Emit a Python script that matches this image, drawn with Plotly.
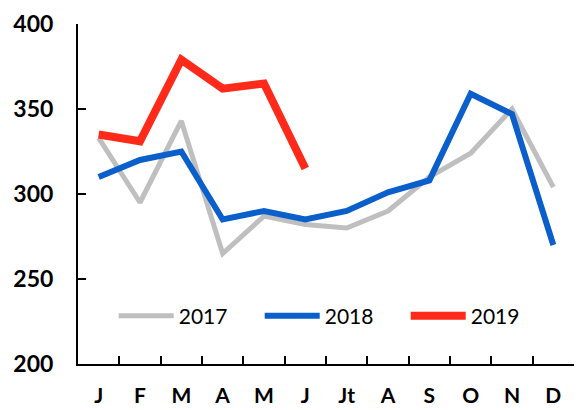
import plotly.graph_objects as go

months = ["J", "F", "M", "A", "M ", "J ", "Jt", "A ", "S", "O", "N", "D"]
tick_text = ["J", "F", "M", "A", "M", "J", "Jt", "A", "S", "O", "N", "D"]

v2017 = [333, 295, 343, 265, 287, 282, 280, 290, 310, 324, 350, 304]
v2018 = [310, 320, 325, 285, 290, 285, 290, 301, 308, 359, 347, 270]
v2019 = [335, 331, 379, 362, 365, 315]

series = [
    ("2017", v2017, "#BFBFBF", 5),
    ("2018", v2018, "#0A5FCB", 6),
    ("2019", v2019, "#FF2A1A", 8),
]

fig = go.Figure()
for name, vals, color, width in series:
    fig.add_trace(go.Scatter(
        x=months[:len(vals)], y=vals, name=name, mode="lines",
        line=dict(color=color, width=width),
    ))

fig.update_layout(
    width=576, height=410,
    margin=dict(l=78, r=2, t=24, b=46),
    paper_bgcolor="white", plot_bgcolor="white",
    font=dict(family="Lato", color="black"),
    showlegend=True,
    legend=dict(
        orientation="h", x=0.072, y=0.141, xanchor="left", yanchor="middle",
        font=dict(size=21, family="Lato"), entrywidth=76, entrywidthmode="pixels",
        itemwidth=55, bgcolor="rgba(0,0,0,0)",
    ),
)
fig.update_xaxes(
    type="category", categoryorder="array", categoryarray=months,
    range=[-0.5, 11.5], automargin=False,
    tickvals=months, ticktext=tick_text,
    showline=True, linecolor="black", linewidth=2,
    ticks="inside", tickson="boundaries", ticklen=8, tickcolor="black", tickwidth=2,
    tickfont=dict(size=21, family="Lato", weight="bold"),
    ticklabelstandoff=12, showgrid=False, zeroline=False,
)
fig.update_yaxes(
    range=[200, 400], dtick=50, automargin=False,
    showline=True, linecolor="black", linewidth=2,
    ticks="inside", ticklen=8, tickcolor="black", tickwidth=2,
    tickfont=dict(size=23, family="Lato", weight="bold"),
    ticklabelstandoff=18, showgrid=False, zeroline=False,
)

fig.write_html("out.html")
